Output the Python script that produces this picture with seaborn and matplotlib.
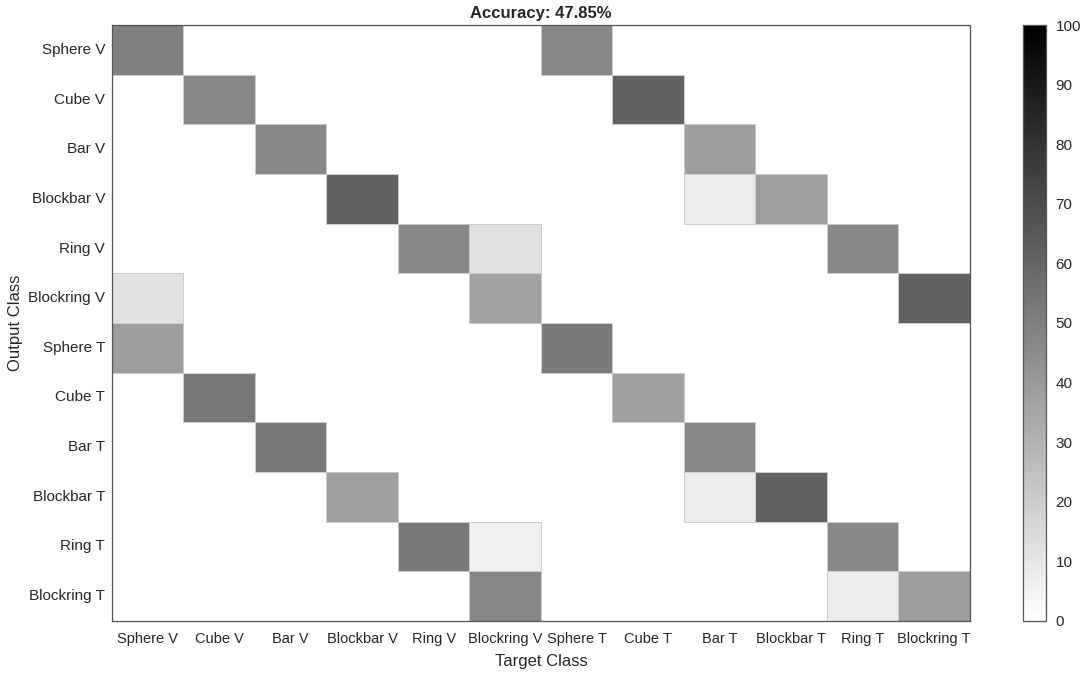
import matplotlib
matplotlib.use("Agg")
import matplotlib.pyplot as plt
from matplotlib.colors import LinearSegmentedColormap
import seaborn as sns
import numpy as np
import pandas as pd

classes = ["Sphere V", "Cube V", "Bar V", "Blockbar V", "Ring V", "Blockring V",
           "Sphere T", "Cube T", "Bar T", "Blockbar T", "Ring T", "Blockring T"]

# rows = output class, columns = target class (percent of each target column)
row_sphere_v = [50.0, 0, 0, 0, 0, 0, 47.0, 0, 0, 0, 0, 0]
row_cube_v = [0, 47.0, 0, 0, 0, 0, 0, 61.5, 0, 0, 0, 0]
row_bar_v = [0, 0, 46.5, 0, 0, 0, 0, 0, 38.5, 0, 0, 0]
row_blockbar_v = [0, 0, 0, 61.5, 0, 0, 0, 0, 7.7, 38.0, 0, 0]
row_ring_v = [0, 0, 0, 0, 46.5, 12.0, 0, 0, 0, 0, 46.5, 0]
row_blockring_v = [11.5, 0, 0, 0, 0, 37.0, 0, 0, 0, 0, 0, 61.5]
row_sphere_t = [38.5, 0, 0, 0, 0, 0, 52.0, 0, 0, 0, 0, 0]
row_cube_t = [0, 53.0, 0, 0, 0, 0, 0, 37.5, 0, 0, 0, 0]
row_bar_t = [0, 0, 52.0, 0, 0, 0, 0, 0, 46.5, 0, 0, 0]
row_blockbar_t = [0, 0, 0, 37.5, 0, 0, 0, 0, 7.7, 61.5, 0, 0]
row_ring_t = [0, 0, 0, 0, 53.0, 6.0, 0, 0, 0, 0, 46.5, 0]
row_blockring_t = [0, 0, 0, 0, 0, 47.0, 0, 0, 0, 0, 7.7, 38.5]

accuracy = 47.85

conf = pd.DataFrame([row_sphere_v, row_cube_v, row_bar_v, row_blockbar_v, row_ring_v,
                     row_blockring_v, row_sphere_t, row_cube_t, row_bar_t, row_blockbar_t,
                     row_ring_t, row_blockring_t], index=classes, columns=classes)

sns.set_style("white")
plt.rcParams['font.family'] = ['Liberation Sans', 'DejaVu Sans']

white_black = LinearSegmentedColormap.from_list("wb", ["#ffffff", "#000000"])

fig = plt.figure(figsize=(10.84, 6.78), dpi=100)
ax = fig.add_axes([0.1033, 0.0841, 0.7915, 0.879])
cax = fig.add_axes([0.9437, 0.0841, 0.0212, 0.879])

sns.heatmap(conf, ax=ax, cbar_ax=cax, cmap=white_black, vmin=0, vmax=100,
            mask=(conf == 0), linewidths=0.7, linecolor="#dddddd",
            cbar_kws={"ticks": np.arange(0, 101, 10)})

# edges only around the filled cells
mesh = ax.collections[0]
edge_cols = [(0.8, 0.8, 0.8, 1.0) if v > 0 else (0, 0, 0, 0) for v in conf.values.flatten()]
mesh.set_edgecolor(edge_cols)

for side in ["top", "bottom", "left", "right"]:
    ax.spines[side].set_visible(True)
    ax.spines[side].set_color("#555555")
    ax.spines[side].set_linewidth(0.9)

ax.tick_params(axis="y", length=0, labelsize=11, pad=5)
ax.tick_params(axis="x", length=0, labelsize=10.5, pad=8)
ax.set_xticklabels(classes, rotation=0)
ax.set_yticklabels(classes, rotation=0)
ax.set_xlabel("Target Class", fontsize=12)
ax.set_ylabel("Output Class", fontsize=12)
ax.xaxis.set_label_coords(0.5, -0.055)
ax.yaxis.set_label_coords(-0.104, 0.5)
ax.set_title("Accuracy: %.2f%%" % accuracy, fontsize=12, fontweight="bold", pad=5)

cbar = mesh.colorbar
cbar.outline.set_edgecolor("#555555")
cbar.outline.set_linewidth(0.9)
cax.tick_params(labelsize=11, direction="in", length=4, color="#333333", pad=7)

fig.savefig("out.png", dpi=100)
